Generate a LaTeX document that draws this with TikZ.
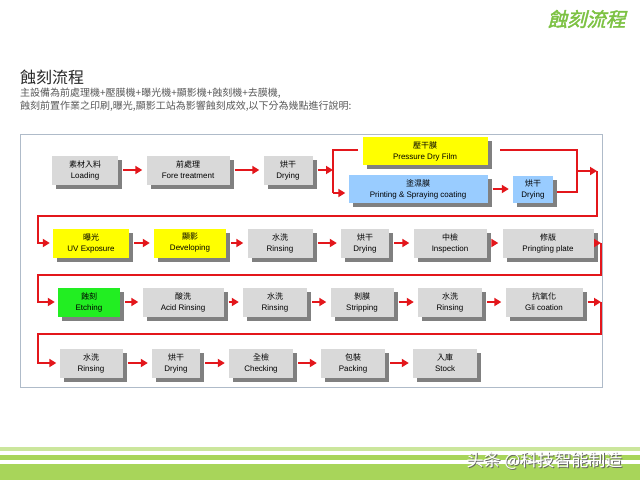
\documentclass[tikz,border=0pt]{standalone}
\usepackage{fontspec}
\setmainfont{Liberation Sans}
\newfontfamily\cjk{Noto Sans CJK TC}
\newfontfamily\cjksc{Noto Sans CJK SC}
\newfontfamily\cjkhead[FakeSlant=0.25,FakeBold=2]{Noto Sans CJK TC}
\usetikzlibrary{positioning, arrows.meta, shadows}
\definecolor{flowred}{HTML}{E3161B}
\definecolor{boxgray}{HTML}{D9D9D9}
\definecolor{shade}{HTML}{808080}
\definecolor{hiyellow}{HTML}{FFFF00}
\definecolor{skyblue}{HTML}{99CCFF}
\definecolor{etchgreen}{HTML}{22EE22}
\definecolor{leaf}{HTML}{7DC243}
\definecolor{band}{HTML}{A8D55A}
\definecolor{framec}{HTML}{AFBBC9}
\newcommand{\duo}[2]{{\cjk #1}\\#2}

\begin{document}
\begin{tikzpicture}[
  x=1pt, y=-1pt,
  font=\fontsize{8}{11}\selectfont,
  proc/.style={fill=boxgray, minimum height=29pt, align=center, inner sep=1pt,
    drop shadow={shadow xshift=4pt, shadow yshift=-4pt, fill=shade, opacity=1}},
  wire/.style={draw=flowred, line width=2.2pt},
  arr/.style={wire, -{Triangle[length=7pt, width=8pt]}},
  flow/.style={arr, shorten <=5pt, shorten >=4pt}
]
  \useasboundingbox (0,0) rectangle (640,480);
  \fill[white] (0,0) rectangle (640,480);

  % header
  \node[anchor=east, font=\cjkhead\fontsize{19.5}{20}\selectfont, text=leaf] (brand) at (629,19) {蝕刻流程};
  \node[anchor=west, inner sep=0, font=\cjk\fontsize{16}{16}\selectfont, text=black!85] (head) at (20,77) {蝕刻流程};
  \node[anchor=north west, inner sep=0, align=left, font=\cjk\fontsize{10}{13}\selectfont, text=black!65] (desc) at (20,88)
    {主設備為前處理機+壓膜機+曝光機+顯影機+蝕刻機+去膜機,\\蝕刻前置作業之印刷,曝光,顯影工站為影響蝕刻成效,以下分為幾點進行說明:};

  \draw[framec, line width=1pt] (20,134) rectangle (602,387);

  % row 1
  \node[proc, minimum width=66pt] (load) at (85,170) {\duo{素材入料}{Loading}};
  \node[proc, minimum width=83pt] (fore) at (188,170) {\duo{前處理}{Fore treatment}};
  \node[proc, minimum width=49pt] (dry1) at (288,170) {\duo{烘干}{Drying}};
  \node[proc, fill=hiyellow, minimum width=125pt, minimum height=28pt] (press) at (425,151) {\duo{壓干膜}{Pressure Dry Film}};
  \node[proc, fill=skyblue, minimum width=139pt, minimum height=28pt] (print) at (418,189) {\duo{塗濕膜}{Printing \& Spraying coating}};
  \node[proc, fill=skyblue, minimum width=40pt, minimum height=27pt] (dry2) at (533,189) {\duo{烘干}{Drying}};

  % row 2
  \node[proc, fill=hiyellow, minimum width=76pt] (uv) at (91,243) {\duo{曝光}{UV Exposure}};
  \node[proc, fill=hiyellow, minimum width=72pt] (dev) at (190,243) {\duo{顯影}{Developing}};
  \node[proc, minimum width=65pt] (rin1) at (280,243) {\duo{水洗}{Rinsing}};
  \node[proc, minimum width=48pt] (dry3) at (365,243) {\duo{烘干}{Drying}};
  \node[proc, minimum width=73pt] (insp) at (450,243) {\duo{中檢}{Inspection}};
  \node[proc, minimum width=91pt] (plate) at (548,243) {\duo{修版}{Pringting plate}};

  % row 3
  \node[proc, fill=etchgreen, minimum width=62pt] (etch) at (89,302) {\duo{蝕刻}{Etching}};
  \node[proc, minimum width=81pt] (acid) at (183,302) {\duo{酸洗}{Acid Rinsing}};
  \node[proc, minimum width=64pt] (rin2) at (275,302) {\duo{水洗}{Rinsing}};
  \node[proc, minimum width=63pt] (strip) at (362,302) {\duo{剝膜}{Stripping}};
  \node[proc, minimum width=64pt] (rin3) at (450,302) {\duo{水洗}{Rinsing}};
  \node[proc, minimum width=77pt] (gli) at (544,302) {\duo{抗氧化}{Gli coation}};

  % row 4
  \node[proc, minimum width=63pt] (rin4) at (91,363) {\duo{水洗}{Rinsing}};
  \node[proc, minimum width=48pt] (dry4) at (176,363) {\duo{烘干}{Drying}};
  \node[proc, minimum width=64pt] (check) at (261,363) {\duo{全檢}{Checking}};
  \node[proc, minimum width=64pt] (pack) at (353,363) {\duo{包裝}{Packing}};
  \node[proc, minimum width=64pt] (stock) at (445,363) {\duo{入庫}{Stock}};

  % branch points
  \coordinate (split) at (333,170);
  \coordinate (splitT) at (333,150);
  \coordinate (splitB) at (333,193);
  \coordinate (pressIn) at (358,150);
  \coordinate (pressOut) at (500,150);
  \coordinate (joinT) at (577,150);
  \coordinate (joinB) at (577,192);
  \coordinate (dry2Out) at (557,192);
  \coordinate (join) at (577,171);
  \coordinate (turn1) at (597,171);
  \coordinate (back1R) at (597,216);
  \coordinate (back1L) at (38,216);
  \coordinate (turn2) at (601,243);
  \coordinate (back2R) at (601,275);
  \coordinate (back2L) at (38,275);
  \coordinate (turn3) at (601,302);
  \coordinate (back3R) at (601,334);
  \coordinate (back3L) at (38,334);

  % connectors
  \draw[flow] (load) -- (fore);
  \draw[flow] (fore) -- (dry1);
  \draw[arr, shorten <=5pt] (dry1) -- (split);
  \draw[wire] (pressIn) -- (splitT) -- (splitB);
  \draw[arr, shorten >=3pt] (splitB) -- (print.west |- splitB);
  \draw[flow] (print.east |- dry2) -- (dry2);
  \draw[wire] (pressOut) -- (joinT) -- (joinB) -- (dry2Out);
  \draw[arr] (join) -- (turn1);
  \draw[arr, shorten >=3pt] (turn1) -- (back1R) -- (back1L) |- (uv);

  \draw[flow] (uv) -- (dev);
  \draw[flow] (dev) -- (rin1);
  \draw[flow] (rin1) -- (dry3);
  \draw[flow] (dry3) -- (insp);
  \draw[flow] (insp) -- (plate);
  \draw[arr, shorten <=5pt] (plate) -- (turn2);
  \draw[arr, shorten >=3pt] (turn2) -- (back2R) -- (back2L) |- (etch);

  \draw[flow] (etch) -- (acid);
  \draw[flow] (acid) -- (rin2);
  \draw[flow] (rin2) -- (strip);
  \draw[flow] (strip) -- (rin3);
  \draw[flow] (rin3) -- (gli);
  \draw[arr, shorten <=5pt] (gli) -- (turn3);
  \draw[arr, shorten >=3pt] (turn3) -- (back3R) -- (back3L) |- (rin4);

  \draw[flow] (rin4) -- (dry4);
  \draw[flow] (dry4) -- (check);
  \draw[flow] (check) -- (pack);
  \draw[flow] (pack) -- (stock);

  % footer bands
  \fill[band!60] (0,447) rectangle (640,451);
  \fill[band] (0,455) rectangle (640,460);
  \fill[band] (0,464) rectangle (640,480);
  \node[anchor=east, font=\cjksc\fontsize{17}{17}\selectfont, text=black!60] (markshade) at (627,462) {头条 @科技智能制造};
  \node[anchor=east, font=\cjksc\fontsize{17}{17}\selectfont, text=white] (mark) at (626,461) {头条 @科技智能制造};
\end{tikzpicture}
\end{document}
